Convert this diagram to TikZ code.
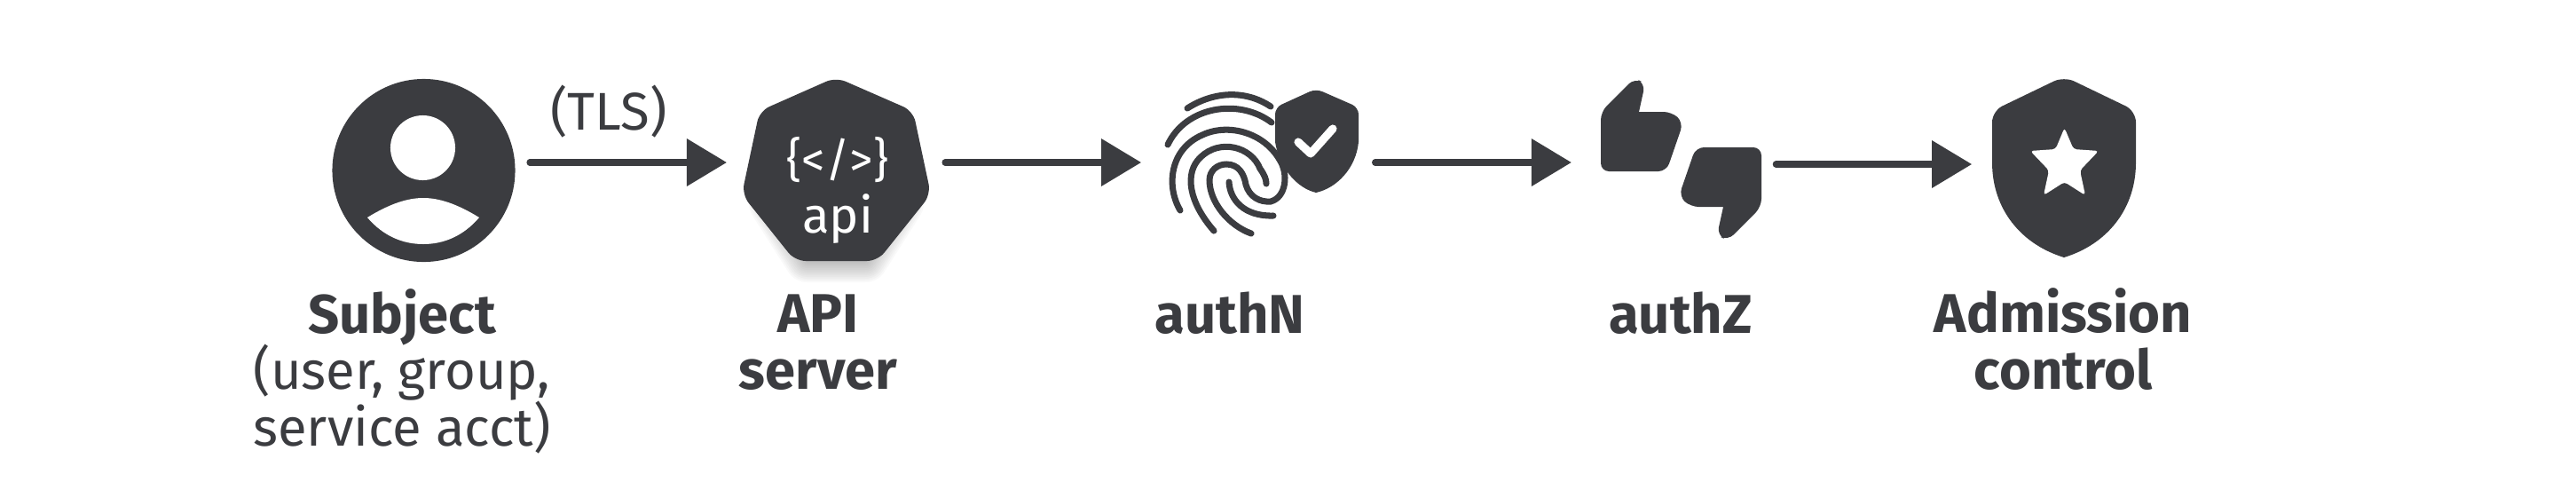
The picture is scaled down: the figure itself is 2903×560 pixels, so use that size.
\documentclass[tikz,border=0pt]{standalone}
\usepackage{fontspec}
\setmainfont{Fira Sans}
\usetikzlibrary{arrows.meta}
\definecolor{icongray}{HTML}{3B3C40}
\tikzset{
  flow/.style={icongray,line width=2pt,line cap=round,-{Triangle[length=12.8pt,width=14.8pt]}},
  iconbox/.style={inner sep=0pt,outer sep=0pt,minimum height=1cm},
  ridge/.style={icongray,line width=2pt,line cap=round},
  caption/.style={icongray,align=center,font=\fontsize{17}{18}\selectfont,inner sep=0pt},
  bold caption/.style={caption,font=\fontsize{17.5}{18}\selectfont\bfseries},
}
\begin{document}
\begin{tikzpicture}[x=0.01cm,y=-0.01cm]
  \useasboundingbox (0,0) rectangle (2903,560);

  \node[iconbox,minimum width=2.05cm] (subject) at (477.5,183) {};
  \node[iconbox,minimum width=2.09cm] (api) at (942.5,183) {};
  \node[iconbox,minimum width=2.11cm] (authn) at (1425,183) {};
  \node[iconbox,minimum width=1.81cm] (authz) at (1894.5,183) {};
  \node[iconbox,minimum width=1.62cm] (admission) at (2326,185) {};

  % subject
  \fill[icongray] (477.5,192) circle (1.03cm);
  \fill[white] (476.5,166.5) circle (0.365cm);
  \fill[white] (414,245) .. controls (440,229) and (460,223) .. (477,223)
    .. controls (494,223) and (514,229) .. (540,245)
    .. controls (522,266) and (500,275) .. (477,275)
    .. controls (454,275) and (432,266) .. (414,245) -- cycle;

  % api server
  \foreach \w in {4,8,...,52}
    \draw[black,opacity=0.025,line width=\w*0.2845pt,line join=round,yshift=-0.12cm]
      (942,135) -- (1000,150) -- (1015,217) -- (975,280) -- (910,280) -- (870,217) -- (885,150) -- cycle;
  \fill[icongray,rounded corners=3.4pt] (942,87) -- (1029,125) -- (1049,219) -- (989,294)
    -- (896,294) -- (836,219) -- (856,125) -- cycle;
  \node[white,inner sep=0pt,font=\fontsize{15}{15}\selectfont] (apicode) at (944,180) {\{</>\}};
  \node[white,inner sep=0pt,font=\fontsize{16}{16}\selectfont] (apitext) at (944,247) {api};

  % authn
  \draw[ridge] (1338,122) .. controls (1366,104) and (1402,100) .. (1432,120);
  \draw[ridge] (1316,163) .. controls (1336,120) and (1396,110) .. (1433,138);
  \draw[ridge] (1410,263) .. controls (1385,254) and (1363,228) .. (1363,203)
    .. controls (1363,192) and (1372,185) .. (1382,185)
    .. controls (1396,185) and (1402,196) .. (1404,208)
    .. controls (1408,222) and (1420,228) .. (1432,227)
    .. controls (1450,222) and (1452,195) .. (1442,180)
    .. controls (1425,150) and (1385,138) .. (1355,152)
    .. controls (1318,168) and (1314,210) .. (1330,237);
  \draw[ridge] (1368,260) .. controls (1340,228) and (1334,195) .. (1353,177)
    .. controls (1375,156) and (1410,165) .. (1420,190)
    .. controls (1425,197) and (1427,202) .. (1427,207);
  \draw[ridge] (1385,205) .. controls (1386,225) and (1402,244) .. (1435,243);
  \fill[icongray] (1437,160) [rounded corners=2.2pt] -- (1437,121) -- (1483,100) -- (1531,121)
    [sharp corners] -- (1531,160)
    .. controls (1528,190) and (1506,212) .. (1483,217)
    .. controls (1462,212) and (1442,190) .. (1437,160) -- cycle;
  \draw[white,line width=2.6pt,line cap=round,line join=round]
    (1463,160) -- (1477,173) -- (1502,145);

  % authz
  \foreach \r in {0,180}
    \fill[icongray,rotate around={\r:(1894.5,179.5)}]
      [rounded corners=2.6pt] (1842,88) -- (1854,94) [sharp corners] -- (1847,126)
      [rounded corners=2.6pt] -- (1884,126) -- (1897,138) -- (1878,193)
      -- (1804,193) -- (1804,126) -- cycle;

  % admission
  \fill[icongray] (2245,183) [rounded corners=3.6pt] -- (2245,125) -- (2326,86) -- (2407,125)
    [sharp corners] -- (2407,183)
    .. controls (2407,235) and (2375,275) .. (2326,290)
    .. controls (2277,275) and (2245,235) .. (2245,183) -- cycle;
  \fill[white,rounded corners=1pt] (2326.5,144) -- (2336.7,168) -- (2365,170) -- (2344,192)
    -- (2350,220) -- (2326.5,205) -- (2303,220) -- (2309,192) -- (2288,170) -- (2316.5,168) -- cycle;

  % connectors
  \draw[flow,shorten <=4.8pt,shorten >=5.4pt] (subject.east) -- (api.west);
  \draw[flow,shorten <=5.1pt,shorten >=9.5pt] (api.east) -- (authn.west);
  \draw[flow,shorten <=5.4pt,shorten >=9.4pt] (authn.east) -- (authz.west);
  \draw[flow,shorten <=4.6pt,shorten >=6.5pt] (authz.east |- admission.west) -- (admission.west);

  % labels
  \node[caption,anchor=base] (tls) at (686,146) {(TLS)};
  \node[bold caption,anchor=base] (subjectlabel) at (453,375) {Subject};
  \node[caption,anchor=base] (subjectnote) at (453,502) {(user, group,\\service acct)};
  \node[bold caption,anchor=base] (apilabel) at (922,438) {API\\server};
  \node[bold caption,anchor=base] (authnlabel) at (1386,375) {authN};
  \node[bold caption,anchor=base] (authzlabel) at (1894,375) {authZ};
  \node[bold caption,anchor=base] (admissionlabel) at (2325,438) {Admission\\control};
\end{tikzpicture}
\end{document}
